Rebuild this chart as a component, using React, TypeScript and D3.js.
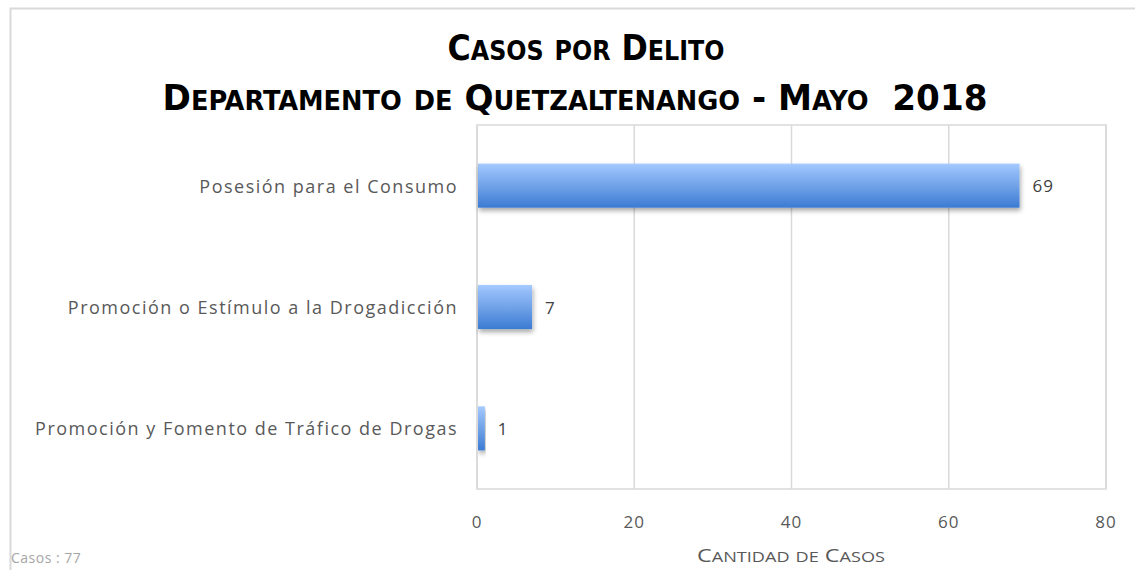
import React from "react";
import * as d3 from "d3";

const categories = [
  "Posesión para el Consumo",
  "Promoción o Estímulo a la Drogadicción",
  "Promoción y Fomento de Tráfico de Drogas",
];
const values = [69, 7, 1];
const xTicks = [0, 20, 40, 60, 80];
const titleLine1 = "Casos por Delito";
const titleLine2 = "Departamento de Quetzaltenango - Mayo  2018";
const axisTitle = "Cantidad de Casos";
const footNote = "Casos : 77";

const W = 1135;
const H = 570;
const plot = { left: 477, right: 1106, top: 125, bottom: 489 };

function smallCaps(text: string, big: number, small: number) {
  const parts: { t: string; s: number }[] = [];
  for (const ch of text) {
    const isLower = ch !== ch.toUpperCase();
    const s = isLower ? small : big;
    const t = ch.toUpperCase();
    if (parts.length && parts[parts.length - 1].s === s) parts[parts.length - 1].t += t;
    else parts.push({ t, s });
  }
  return parts.map((p, i) => (
    <tspan key={i} fontSize={p.s}>
      {p.t}
    </tspan>
  ));
}

export default function App() {
  const x = d3.scaleLinear().domain([0, 80]).range([plot.left, plot.right]);
  const y = d3
    .scaleBand<string>()
    .domain(categories)
    .range([plot.top, plot.bottom])
    .paddingInner(0.637)
    .paddingOuter(0.318);

  const labelFont = "'Open Sans', 'Noto Sans', sans-serif";
  const titleFont = "'DejaVu Sans Condensed', 'DejaVu Sans', sans-serif";

  return (
    <svg
      width={W}
      height={H}
      style={{ position: "absolute", left: 0, top: 0, background: "#fff" }}
    >
      <defs>
        <linearGradient id="barGrad" x1="0" y1="0" x2="0" y2="1">
          <stop offset="0%" stopColor="#a7cbff" />
          <stop offset="15%" stopColor="#93bcf8" />
          <stop offset="55%" stopColor="#6c9fe6" />
          <stop offset="100%" stopColor="#3b7bd3" />
        </linearGradient>
        <filter id="shadow" x="-5%" y="-20%" width="115%" height="160%">
          <feGaussianBlur in="SourceAlpha" stdDeviation="2.5" />
          <feOffset dx="1" dy="3" result="blur" />
          <feComponentTransfer>
            <feFuncA type="linear" slope="0.35" />
          </feComponentTransfer>
          <feMerge>
            <feMergeNode />
            <feMergeNode in="SourceGraphic" />
          </feMerge>
        </filter>
      </defs>

      <rect x={10.5} y={8.5} width={W + 10} height={H + 10} fill="#fff" stroke="#d9d9d9" strokeWidth={2} />

      <text
        x={586}
        y={60}
        textAnchor="middle"
        fontFamily={titleFont}
        fontWeight="bold"
        fill="#000"
        textLength={277}
        lengthAdjust="spacingAndGlyphs"
      >
        {smallCaps(titleLine1, 36, 27)}
      </text>
      <text
        x={575}
        y={110}
        textAnchor="middle"
        fontFamily={titleFont}
        fontWeight="bold"
        fill="#000"
        style={{ whiteSpace: "pre" }}
        textLength={825}
        lengthAdjust="spacingAndGlyphs"
      >
        {smallCaps(titleLine2, 36, 27)}
      </text>

      <rect
        x={plot.left}
        y={plot.top}
        width={plot.right - plot.left}
        height={plot.bottom - plot.top}
        fill="none"
        stroke="#d9d9d9"
        strokeWidth={1.5}
      />

      {xTicks.map((t) => (
        <line
          key={"g" + t}
          x1={x(t)}
          x2={x(t)}
          y1={plot.top}
          y2={plot.bottom}
          stroke="#d9d9d9"
          strokeWidth={1.5}
        />
      ))}

      {categories.map((c, i) => (
        <g key={c}>
          <rect
            x={x(0) + 1}
            y={y(c)!}
            width={Math.max(0, x(values[i]) - x(0) - 1)}
            height={y.bandwidth()}
            fill="url(#barGrad)"
            filter="url(#shadow)"
          />
          <text
            x={x(values[i]) + 13}
            y={y(c)! + y.bandwidth() / 2}
            dominantBaseline="central"
            fontFamily={labelFont}
            fontSize={17}
            letterSpacing={1}
            fill="#404040"
          >
            {values[i]}
          </text>
          <text
            x={458}
            y={y(c)! + y.bandwidth() / 2}
            dominantBaseline="central"
            textAnchor="end"
            fontFamily={labelFont}
            fontSize={18}
            letterSpacing={1.5}
            fill="#595959"
          >
            {c}
          </text>
        </g>
      ))}

      {xTicks.map((t) => (
        <text
          key={"t" + t}
          x={x(t)}
          y={521}
          dominantBaseline="central"
          textAnchor="middle"
          fontFamily={labelFont}
          fontSize={17}
          letterSpacing={1}
          fill="#595959"
        >
          {t}
        </text>
      ))}

      <text
        x={791}
        y={562}
        textAnchor="middle"
        fontFamily={labelFont}
        fill="#595959"
        textLength={188}
        lengthAdjust="spacingAndGlyphs"
      >
        {smallCaps(axisTitle, 18, 14)}
      </text>

      <text
        x={11}
        y={557}
        dominantBaseline="central"
        fontFamily={labelFont}
        fontSize={14}
        letterSpacing={0.5}
        fill="#a6a6a6"
      >
        {footNote}
      </text>
    </svg>
  );
}
